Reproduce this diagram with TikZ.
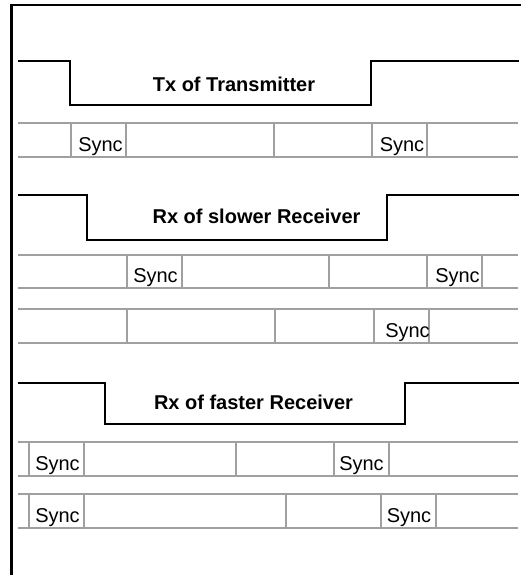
\documentclass[tikz,border=0pt]{standalone}
\usepackage{fontspec}
\setmainfont{Liberation Sans}
\tikzset{
  frameline/.style={line width=2.2pt, black},
  wave/.style={line width=2.2pt, black, line join=miter},
  cell/.style={line width=1.1pt, color={rgb,255:red,160;green,160;blue,160}},
  synctext/.style={anchor=base, inner sep=0pt, font=\fontsize{20}{24}\selectfont},
  title/.style={anchor=base, inner sep=0pt, font=\fontsize{20}{24}\selectfont\bfseries},
}
\begin{document}
\begin{tikzpicture}[x=1pt,y=-1pt]
\useasboundingbox (0,0) rectangle (521,575);
% frame
\draw[frameline] (11.5,575) -- (11.5,5) -- (521,5);

% ---------- Tx of Transmitter ----------
\draw[wave] (18,61) -- (70,61) -- (70,105) -- (371,105) -- (371,61) -- (519,61);
\node[title] (t1) at (234,91.5) {Tx of Transmitter};
\draw[cell] (18,123) -- (518,123);
\draw[cell] (18,157) -- (518,157);
\foreach \x in {71,126,274,372,427} \draw[cell] (\x,123) -- (\x,157);
\node[synctext] (s1a) at (100.5,151) {Sync};
\node[synctext] (s1b) at (402,151) {Sync};

% ---------- Rx of slower Receiver ----------
\draw[wave] (18,195) -- (87,195) -- (87,240) -- (387,240) -- (387,195) -- (519,195);
\node[title] (t2) at (256.5,223) {Rx of slower Receiver};
\draw[cell] (18,255) -- (518,255);
\draw[cell] (18,288) -- (518,288);
\foreach \x in {127,182,329,427,482} \draw[cell] (\x,255) -- (\x,288);
\node[synctext] (s2a) at (155.5,282) {Sync};
\node[synctext] (s2b) at (457.5,282) {Sync};
\draw[cell] (18,309) -- (518,309);
\draw[cell] (18,343) -- (518,343);
\foreach \x in {127,275,374,429} \draw[cell] (\x,309) -- (\x,343);
\node[synctext] (s3a) at (407.5,337) {Sync};

% ---------- Rx of faster Receiver ----------
\draw[wave] (18,383) -- (105,383) -- (105,424) -- (405,424) -- (405,383) -- (519,383);
\node[title] (t3) at (253.5,409) {Rx of faster Receiver};
\draw[cell] (18,442) -- (518,442);
\draw[cell] (18,476) -- (518,476);
\foreach \x in {29,84,236,334,389} \draw[cell] (\x,442) -- (\x,476);
\node[synctext] (s4a) at (57.5,470) {Sync};
\node[synctext] (s4b) at (361.5,470) {Sync};
\draw[cell] (18,494) -- (518,494);
\draw[cell] (18,528) -- (518,528);
\foreach \x in {29,84,286,381,436} \draw[cell] (\x,494) -- (\x,528);
\node[synctext] (s5a) at (57.5,522) {Sync};
\node[synctext] (s5b) at (409,522) {Sync};
\end{tikzpicture}
\end{document}
